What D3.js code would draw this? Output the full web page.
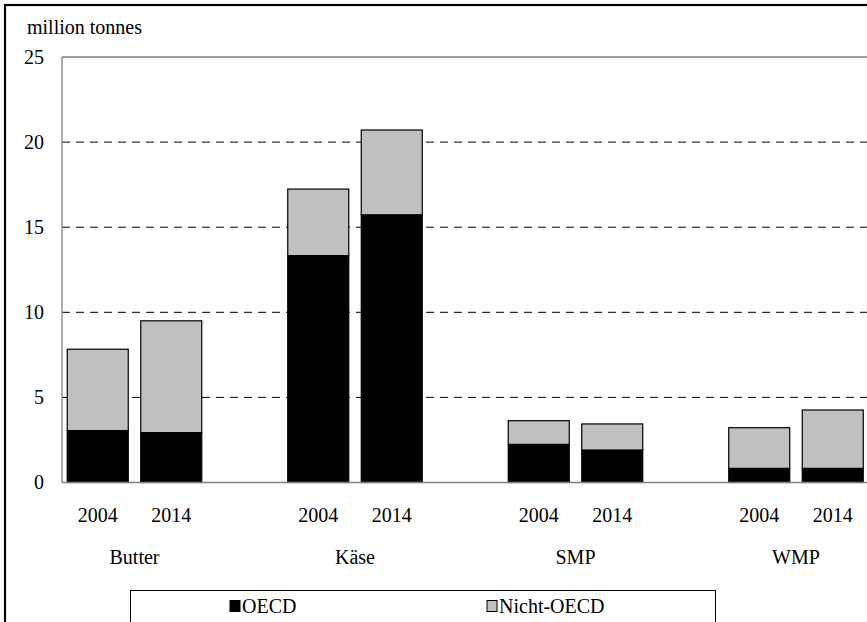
<!DOCTYPE html>
<html>
<head>
<meta charset="utf-8">
<title>Dairy production</title>
<style>
  body { margin: 0; background: #fff; }
</style>
</head>
<body>
<script src="https://d3js.org/d3.v7.min.js"></script>
<script>

var categories = ["Butter", "Käse", "SMP", "WMP"];
var years = ["2004", "2014"];
var oecd2004 = [3.05, 13.33, 2.24, 0.83];
var oecd2014 = [2.93, 15.73, 1.91, 0.83];
var nichtOecd2004 = [4.78, 3.91, 1.39, 2.39];
var nichtOecd2014 = [6.57, 4.98, 1.53, 3.43];
var yTicks = [0, 5, 10, 15, 20, 25];
var seriesNames = ["OECD", "Nicht-OECD"];
var seriesColors = ["#000000", "#c0c0c0"];

var FONT = "'Liberation Serif', 'Times New Roman', serif";
var FS = "20px";
var W = 867, H = 622;
var svg = d3.select("body").append("svg")
    .attr("width", W)
    .attr("height", H)
    .style("font-family", FONT);

// outer frame (runs off the right / bottom edge like the original)
svg.append("rect")
    .attr("x", 5).attr("y", 5)
    .attr("width", 920).attr("height", 700)
    .attr("fill", "none")
    .attr("stroke", "#000")
    .attr("stroke-width", 2.2);

// two years per product plus an empty slot between products
var rows = [];
var slots = [];
categories.forEach(function(c, i){
    if (i > 0) slots.push("gap" + i);
    rows.push({key: c + "|" + years[0], cat: c, year: years[0], OECD: oecd2004[i], "Nicht-OECD": nichtOecd2004[i]});
    rows.push({key: c + "|" + years[1], cat: c, year: years[1], OECD: oecd2014[i], "Nicht-OECD": nichtOecd2014[i]});
    slots.push(c + "|" + years[0]);
    slots.push(c + "|" + years[1]);
});

var x = d3.scaleBand()
    .domain(slots)
    .range([61, 869.5])
    .paddingInner(0.17)
    .paddingOuter(0.085);

var y = d3.scaleLinear()
    .domain([0, 25])
    .range([482.5, 57]);

var left = 62, right = 900;

// top border of plot area
svg.append("line")
    .attr("x1", left).attr("x2", right)
    .attr("y1", y(25)).attr("y2", y(25))
    .attr("stroke", "#808080").attr("stroke-width", 1.3);

// dashed gridlines
svg.selectAll("line.grid")
    .data(yTicks.filter(function(t){ return t > 0 && t < 25; }))
    .enter().append("line")
    .attr("class", "grid")
    .attr("x1", left).attr("x2", right)
    .attr("y1", function(d){ return y(d); })
    .attr("y2", function(d){ return y(d); })
    .attr("stroke", "#000")
    .attr("stroke-width", 1)
    .attr("stroke-dasharray", "8,6");

// stacked bars
var stacked = d3.stack().keys(seriesNames)(rows);

svg.selectAll("g.series")
    .data(stacked)
    .enter().append("g")
    .attr("class", "series")
    .attr("fill", function(d, i){ return seriesColors[i]; })
    .selectAll("rect")
    .data(function(d){ return d; })
    .enter().append("rect")
    .attr("x", function(d){ return x(d.data.key); })
    .attr("width", x.bandwidth())
    .attr("y", function(d){ return y(d[1]); })
    .attr("height", function(d){ return y(d[0]) - y(d[1]); })
    .attr("stroke", "#000")
    .attr("stroke-width", 1.2);

// axis lines
svg.append("line")
    .attr("x1", left).attr("x2", left)
    .attr("y1", y(25)).attr("y2", y(0))
    .attr("stroke", "#808080").attr("stroke-width", 1.3);
svg.append("line")
    .attr("x1", left).attr("x2", right)
    .attr("y1", y(0)).attr("y2", y(0))
    .attr("stroke", "#808080").attr("stroke-width", 1.5);

// y axis labels
var gy = svg.append("g")
    .attr("transform", "translate(" + left + ",0)")
    .call(d3.axisLeft(y).tickValues(yTicks).tickSize(0).tickPadding(18));
gy.select(".domain").remove();
gy.attr("font-family", null).attr("font-size", null);
gy.selectAll("text").attr("fill", "#000").style("font-size", FS);

svg.append("text")
    .attr("x", 27).attr("y", 34)
    .style("font-size", FS)
    .text("million tonnes");

// year labels
svg.selectAll("text.year")
    .data(rows)
    .enter().append("text")
    .attr("class", "year")
    .attr("x", function(d){ return x(d.key) + x.bandwidth() / 2; })
    .attr("y", 522)
    .attr("text-anchor", "middle")
    .style("font-size", FS)
    .text(function(d){ return d.year; });

// product labels
svg.selectAll("text.cat")
    .data(categories)
    .enter().append("text")
    .attr("class", "cat")
    .attr("x", function(c){
        return (x(c + "|" + years[0]) + x(c + "|" + years[1]) + x.bandwidth()) / 2;
    })
    .attr("y", 564)
    .attr("text-anchor", "middle")
    .style("font-size", FS)
    .text(function(c){ return c; });

// legend
var lg = svg.append("g");
lg.append("rect")
    .attr("x", 130.5).attr("y", 590.5)
    .attr("width", 585).attr("height", 32)
    .attr("fill", "#fff")
    .attr("stroke", "#000")
    .attr("stroke-width", 1);

var legendX = [230, 487];
seriesNames.forEach(function(s, i){
    lg.append("rect")
        .attr("x", legendX[i]).attr("y", 600.5)
        .attr("width", 10).attr("height", 11)
        .attr("fill", seriesColors[i])
        .attr("stroke", "#000")
        .attr("stroke-width", 1);
    lg.append("text")
        .attr("x", legendX[i] + 12).attr("y", 613)
        .style("font-size", FS)
        .text(s);
});

</script>
</body>
</html>
